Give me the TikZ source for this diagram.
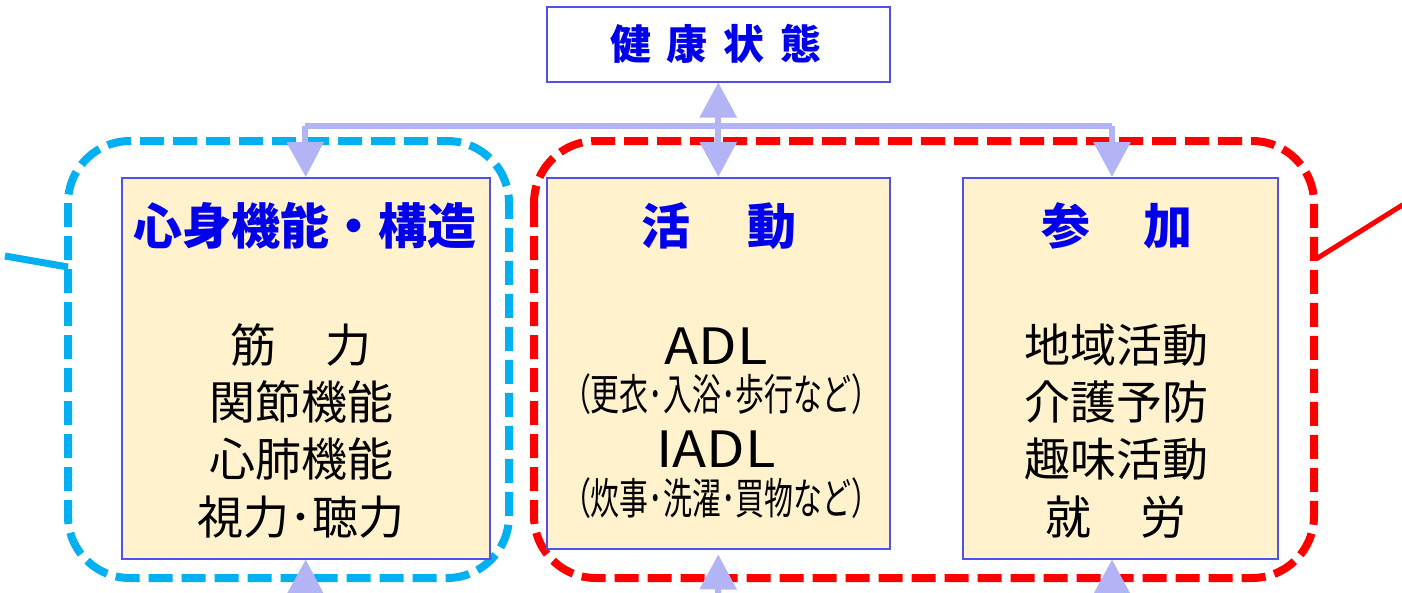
\documentclass[tikz,border=0pt]{standalone}
\usepackage{fontspec}
\usepackage{graphicx}
\newfontfamily\jp{Noto Sans CJK JP}
\usetikzlibrary{arrows.meta}
\definecolor{bluet}{RGB}{0,0,235}
\definecolor{boxline}{RGB}{80,80,235}
\definecolor{boxfill}{RGB}{255,242,204}
\definecolor{conncol}{RGB}{178,180,245}
\definecolor{cyanl}{RGB}{0,176,240}
\definecolor{redl}{RGB}{255,0,0}
\begin{document}
\begin{tikzpicture}[x=1pt,y=-1pt,
  panel/.style={draw=boxline,line width=1.5pt,fill=boxfill,inner sep=0pt,anchor=north west},
  topbox/.style={draw=boxline,line width=1.5pt,fill=white,inner sep=0pt,anchor=north west},
  ttl/.style={inner sep=0pt,anchor=center,text=bluet,font=\jp\bfseries\fontsize{49}{52}\selectfont},
  bodytxt/.style={inner sep=0pt,anchor=center,text=black,font=\jp\fontsize{46}{50}\selectfont},
  smalltxt/.style={inner sep=0pt,anchor=center,text=black,font=\jp\fontsize{30}{34}\selectfont},
  latintxt/.style={inner sep=0pt,anchor=center,text=black,font=\jp\fontsize{50}{54}\selectfont},
  conn/.style={draw=conncol,line width=6pt},
  headarrow/.style={-{Triangle[width=36pt,length=35pt]}},
  grouping/.style={line width=8pt,dash pattern=on 24pt off 9pt,rounded corners=62pt}]
\useasboundingbox (0,0) rectangle (1402,592);

% dashed groupings
\draw[grouping,draw=cyanl] (68,141) rectangle (509,578);
\draw[grouping,draw=redl] (534,141) rectangle (1314,578);
\coordinate (bl1) at (5,256);
\coordinate (bl2) at (68,267);
\draw[cyanl,line width=7pt] (bl1) -- (bl2);
\coordinate (rl1) at (1316,259);
\coordinate (rl2) at (1404,204);
\draw[redl,line width=5pt] (rl1) -- (rl2);

% boxes
\node[topbox,minimum width=343pt,minimum height=75pt] (top) at (546,6) {};
\node[panel,minimum width=368pt,minimum height=381pt] (body) at (121,177) {};
\node[panel,minimum width=343pt,minimum height=371pt] (act) at (546,177) {};
\node[panel,minimum width=315pt,minimum height=381pt] (par) at (962,177) {};

% connectors
\coordinate (jl) at (305,126);
\coordinate (jr) at (1112,126);
\draw[conn] (jl) -- (jr);
\draw[conn,headarrow] (jl) -- (body.north);
\draw[conn,headarrow] (jr) -- (jr |- par.north);
\draw[conn,{Triangle[width=36pt,length=35pt]}-{Triangle[width=36pt,length=35pt]}] (top.south) -- (act.north);
\coordinate (bb) at (305,640);
\coordinate (ba) at (718,640);
\coordinate (bp) at (1112,640);
\draw[conn,headarrow] (bb) -- (body.south);
\draw[conn,headarrow,shorten >=5pt] (ba) -- (act.south);
\draw[conn,headarrow] (bp) -- (bp |- par.south);

% texts
\node[inner sep=0pt,text=bluet,font=\jp\bfseries\fontsize{41}{44}\selectfont] (topT) at (716,44) {健\hspace{16pt}康\hspace{16pt}状\hspace{16pt}態};
\node[ttl] (bodyT) at (305,226) {心身機能・構造};
\node[ttl] (actT) at (719,226) {活\hspace{58pt}動};
\node[ttl] (parT) at (1117,226) {参\hspace{53pt}加};

\node[bodytxt] (b1) at (301,345) {筋\hspace{50pt}力};
\node[bodytxt] (b2) at (301,402) {関節機能};
\node[bodytxt] (b3) at (301,459) {心肺機能};
\node[bodytxt] (b4) at (301,517) {視力･聴力};

\node[latintxt] (a1) at (716,346) {\scalebox{1.12}[1]{ADL}};
\node[smalltxt] (a2) at (721,394) {\resizebox*{318pt}{41pt}{（更衣･入浴･歩行など）}};
\node[latintxt] (a3) at (716,449) {\scalebox{1.12}[1]{IADL}};
\node[smalltxt] (a4) at (721,498) {\resizebox*{318pt}{41pt}{（炊事･洗濯･買物など）}};

\node[bodytxt] (p1) at (1116,345) {地域活動};
\node[bodytxt] (p2) at (1116,402) {介護予防};
\node[bodytxt] (p3) at (1116,459) {趣味活動};
\node[bodytxt] (p4) at (1116,517) {就\hspace{50pt}労};
\end{tikzpicture}
\end{document}
